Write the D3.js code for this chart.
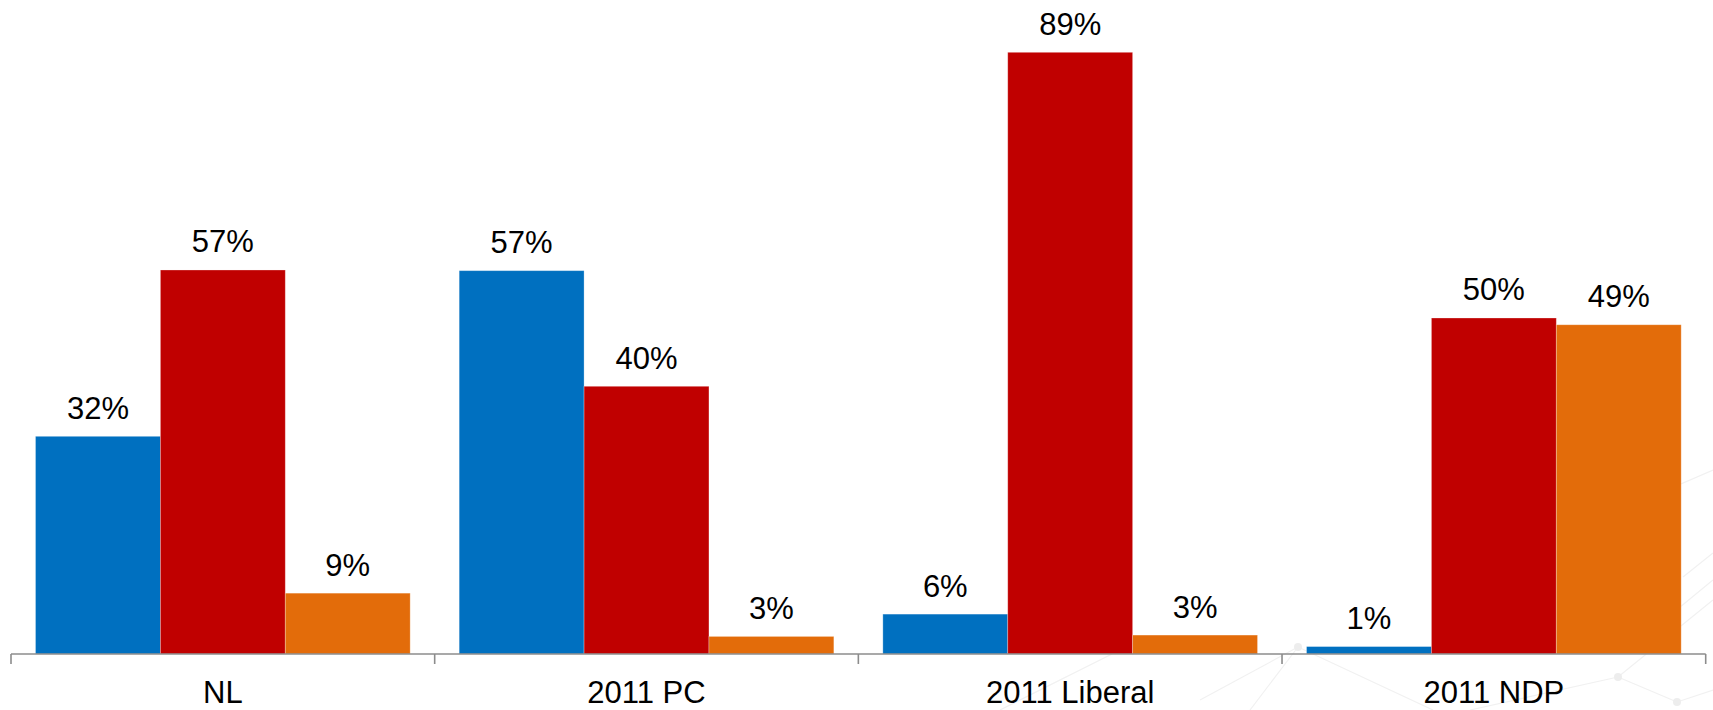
<!DOCTYPE html>
<html>
<head>
<meta charset="utf-8">
<script src="https://cdn.jsdelivr.net/npm/d3@7/dist/d3.min.js"></script>
<style>
  html, body { margin: 0; padding: 0; background: #ffffff; }
  svg { display: block; }
  text { font-family: "Liberation Sans", Arial, sans-serif; fill: #000; }
</style>
</head>
<body>
<svg id="chart" width="1713" height="710"></svg>
<script>
// ---- data ----
const categories = ["NL", "2011 PC", "2011 Liberal", "2011 NDP"];
const seriesNames = ["Conservative", "Liberal", "NDP"];
const seriesColors = ["#0070C0", "#C00000", "#E36C0A"];
const conservativeValues = [32.2, 56.7, 5.9, 1.1];
const liberalValues      = [56.8, 39.6, 89.0, 49.7];
const ndpValues          = [9.0, 2.6, 2.8, 48.7];
const seriesValues = [conservativeValues, liberalValues, ndpValues];

// ---- layout ----
const width = 1713, height = 710;
const axisLeft = 11, axisRight = 1705.7, baseY = 654;

const svg = d3.select("#chart");

// faint decorative background network
const deco = svg.append("g").attr("stroke", "#f1f1f1").attr("stroke-width", 1.2).attr("fill", "none");
const decoLines = [
  [[1250, 710], [1298, 647]], [[1298, 647], [1433, 710]], [[1298, 647], [1200, 700]],
  [[1470, 710], [1618, 677]], [[1618, 677], [1677, 702]], [[1618, 677], [1713, 600]],
  [[1677, 702], [1713, 690]], [[1683, 577], [1713, 553]], [[1640, 640], [1713, 580]],
  [[1000, 710], [1140, 640]], [[1540, 545], [1713, 470]]
];
decoLines.forEach(l => deco.append("line")
  .attr("x1", l[0][0]).attr("y1", l[0][1]).attr("x2", l[1][0]).attr("y2", l[1][1]));
[[1298, 647], [1618, 677], [1677, 702]].forEach(p =>
  svg.append("circle").attr("cx", p[0]).attr("cy", p[1]).attr("r", 4).attr("fill", "#ededed"));

const x0 = d3.scaleBand().domain(categories).range([axisLeft, axisRight]).padding(0);
const gapOuter = 24.5;
const x1 = d3.scaleBand().domain(seriesNames).range([gapOuter, x0.bandwidth() - gapOuter]).padding(0);
const y = d3.scaleLinear().domain([0, 89]).range([baseY, 52.3]);

const groups = svg.append("g").selectAll("g")
  .data(categories)
  .join("g")
  .attr("transform", d => `translate(${x0(d)},0)`);

groups.each(function (cat, ci) {
  const g = d3.select(this);
  seriesNames.forEach((s, si) => {
    const v = seriesValues[si][ci];
    g.append("rect")
      .attr("x", x1(s))
      .attr("y", y(v))
      .attr("width", x1.bandwidth())
      .attr("height", baseY - y(v))
      .attr("fill", seriesColors[si])
      .attr("stroke", "#ffffff")
      .attr("stroke-opacity", 0.35)
      .attr("stroke-width", 0.8);
    g.append("text")
      .attr("x", x1(s) + x1.bandwidth() / 2)
      .attr("y", y(v) - 17.5)
      .attr("text-anchor", "middle")
      .attr("font-size", "31px")
      .text(Math.round(v) + "%");
  });
});

// axis
const axisG = svg.append("g").attr("transform", `translate(0,${baseY})`);
axisG.append("line").attr("x1", axisLeft).attr("x2", axisRight).attr("y1", 0).attr("y2", 0)
  .attr("stroke", "#8c8c8c").attr("stroke-width", 1.6);
const boundaries = categories.map(c => x0(c)).concat([axisRight]);
axisG.selectAll("line.tick").data(boundaries).join("line")
  .attr("class", "tick")
  .attr("x1", d => d).attr("x2", d => d).attr("y1", 0).attr("y2", 10)
  .attr("stroke", "#8c8c8c").attr("stroke-width", 1.6);
axisG.selectAll("text.cat").data(categories).join("text")
  .attr("class", "cat")
  .attr("x", d => x0(d) + x0.bandwidth() / 2)
  .attr("y", 49)
  .attr("text-anchor", "middle")
  .attr("font-size", "31px")
  .text(d => d);
</script>
</body>
</html>
